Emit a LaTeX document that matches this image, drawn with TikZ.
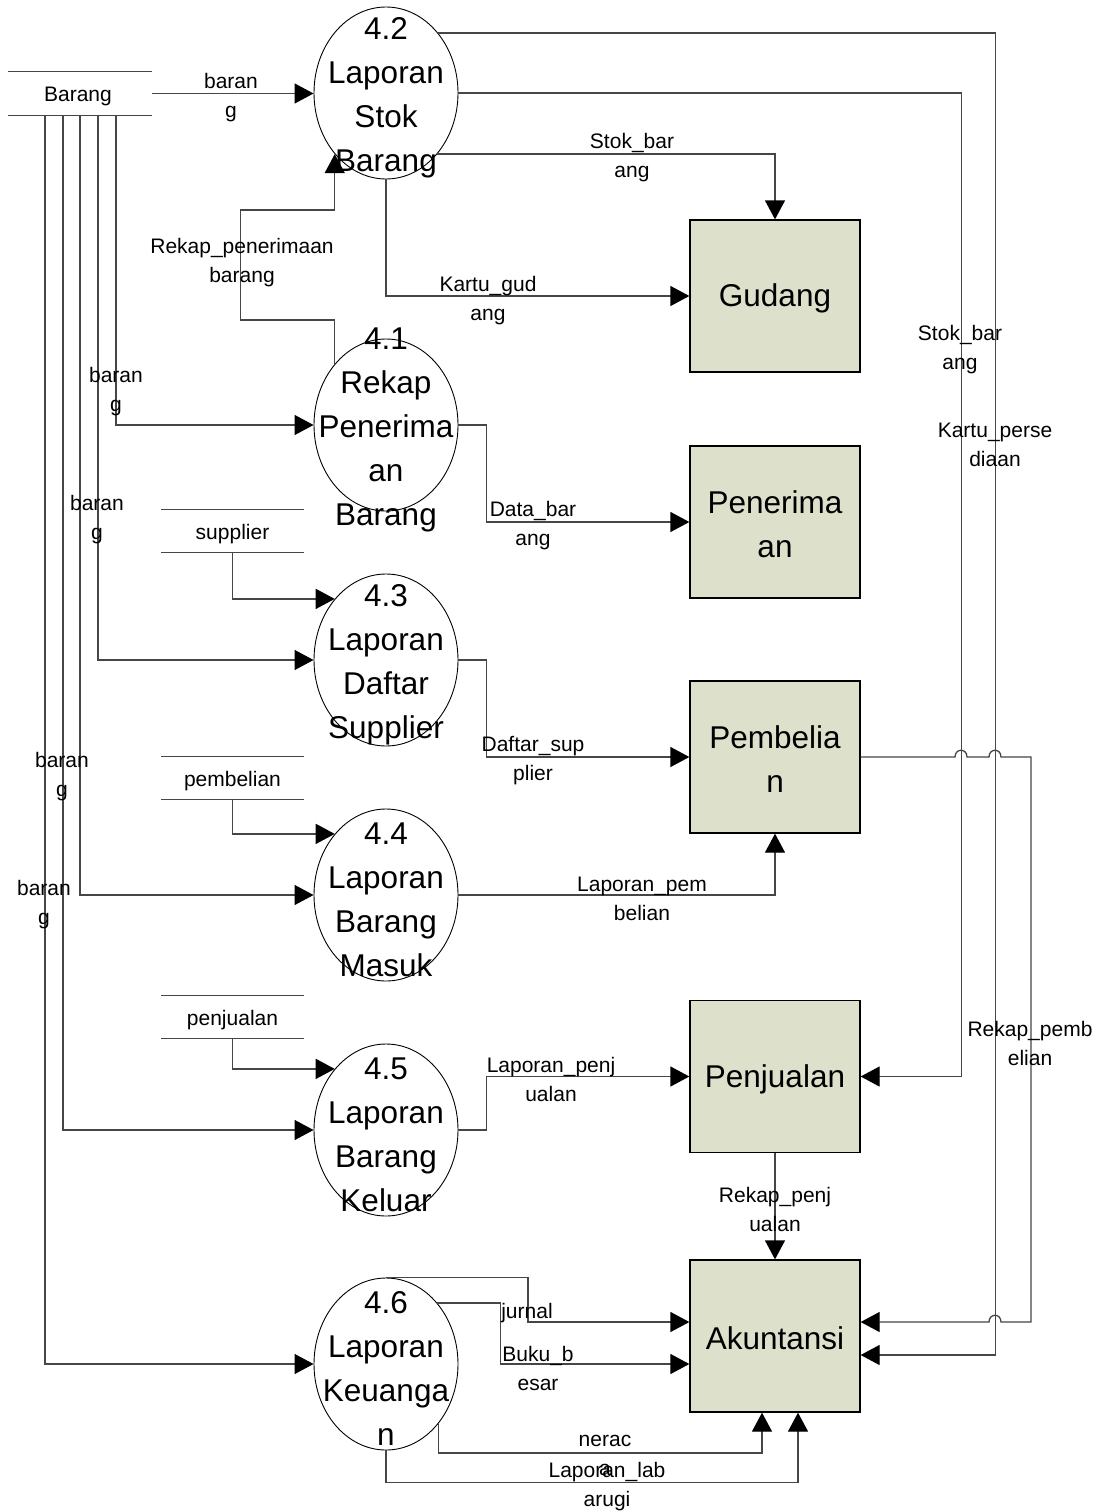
\documentclass[tikz,border=0pt]{standalone}
\usepackage{fontspec}
\setmainfont{Liberation Sans}
\usetikzlibrary{arrows.meta,shapes.geometric}
\newcommand\procfnt{\fontsize{31.5}{44}\selectfont}
\newcommand\labfnt{\fontsize{21}{29}\selectfont}
\definecolor{boxfill}{RGB}{221,225,204}
\definecolor{linegray}{RGB}{70,70,70}
\begin{document}
\begin{tikzpicture}[x=1pt,y=-1pt,
 proc/.style={ellipse,draw=black,line width=0.9pt,minimum width=144pt,minimum height=172pt,inner sep=0pt},
 ptext/.style={font=\procfnt,align=center,inner sep=0pt,yshift=-4.5pt},
 ent/.style={rectangle,draw=black,line width=1.3pt,fill=boxfill,minimum width=170pt,minimum height=152pt,inner sep=0pt},
 etext/.style={font=\procfnt,align=center,inner sep=0pt,yshift=-2.5pt},
 store/.style={minimum width=142pt,minimum height=42pt,inner sep=0pt},
 stext/.style={font=\labfnt,inner sep=0pt,yshift=-3pt},
 sline/.style={draw=linegray,line width=1.2pt},
 flow/.style={draw=linegray,line width=1.3pt,-{Triangle[length=19pt,width=20pt,color=black]}},
 lab/.style={font=\labfnt,align=center,inner sep=0pt,yshift=-2.5pt}]

\useasboundingbox (0,0) rectangle (1111,1512);
\fill[white] (0,0) rectangle (1111,1512);

% data stores
\node[store,minimum width=144pt,minimum height=43pt] (bar) at (80,93.5) {};
\node[store] (sup) at (232.5,531) {};
\node[store] (pbl) at (232.5,778) {};
\node[store] (pjl) at (232.5,1017) {};
\node[stext] (sbar) at ([xshift=-2pt]bar.center) {Barang};
\node[stext] (ssup) at (sup.center) {supplier};
\node[stext] (spbl) at (pbl.center) {pembelian};
\node[stext] (spjl) at (pjl.center) {penjualan};
\foreach \s in {bar,sup,pbl,pjl}{
  \draw[sline] (\s.north west) -- (\s.north east) (\s.south west) -- (\s.south east);
}

% processes
\node[proc] (e42) at (386,93) {};
\node[proc] (e41) at (386,425) {};
\node[proc] (e43) at (386,660) {};
\node[proc] (e44) at (386,895) {};
\node[proc] (e45) at (386,1130) {};
\node[proc] (e46) at (386,1364) {};
\node[ptext] (t42) at (e42.center) {4.2\\Laporan\\Stok\\Barang};
\node[ptext] (t41) at (e41.center) {4.1\\Rekap\\Penerima\\an\\Barang};
\node[ptext] (t43) at (e43.center) {4.3\\Laporan\\Daftar\\Supplier};
\node[ptext] (t44) at (e44.center) {4.4\\Laporan\\Barang\\Masuk};
\node[ptext] (t45) at (e45.center) {4.5\\Laporan\\Barang\\Keluar};
\node[ptext] (t46) at (e46.center) {4.6\\Laporan\\Keuanga\\n};

% external entities
\node[ent] (gud) at (775,296) {};
\node[ent] (pen) at (775,522) {};
\node[ent] (pemb) at (775,757) {};
\node[ent] (penj) at (775,1076.5) {};
\node[ent] (akun) at (775,1336) {};
\node[etext] (tgud) at (gud.center) {Gudang};
\node[etext] (tpen) at (pen.center) {Penerima\\an};
\node[etext] (tpemb) at (pemb.center) {Pembelia\\n};
\node[etext] (tpenj) at (penj.center) {Penjualan};
\node[etext] (takun) at (akun.center) {Akuntansi};

% flows from Barang
\draw[flow] (bar.east) -- (bar.east -| e42.west);
\draw[flow] ([xshift=36pt]bar.south) |- (e41.west);
\draw[flow] ([xshift=18pt]bar.south) |- (e43.west);
\draw[flow] (bar.south) |- (e44.west);
\draw[flow] ([xshift=-17pt]bar.south) |- (e45.west);
\draw[flow] ([xshift=-35pt]bar.south) |- (e46.west);

% stores to processes
\draw[flow] (sup.south) |- (e43.130);
\draw[flow] (pbl.south) |- (e44.130);
\draw[flow] (pjl.south) |- (e45.130);

% 4.1 -> 4.2
\draw[flow] (e41.130) -- ++(0,-44) -- ++(-94,0) -- ++(0,-110) -- ++(94,0) -- (e42.-130);

% 4.2 flows
\draw[flow] (e42.-50) -| (gud.north);
\draw[flow] (e42.south) |- (gud.west);
\draw[flow] (e42.49) -- ++(557,0) |- ([yshift=-19pt]akun.east);
\draw[flow] (e42.east) -- ++(503,0) |- (penj.east);

% other process flows
\draw[flow] (e41.east) -- ++(28,0) |- (pen.west);
\draw[flow] (e43.east) -- ++(28,0) |- (pemb.west);
\draw[flow] (e44.east) -| (pemb.south);
\draw[flow] (e45.east) -- ++(28,0) |- (penj.west);
\draw[flow] (penj.south) -- (akun.north);

% Pembelian -> Akuntansi with hops
\draw[flow] (pemb.east) -- (955,757) .. controls (955,748) and (967,748) .. (967,757)
  -- (989,757) .. controls (989,748) and (1001,748) .. (1001,757)
  -- (1031,757) -- (1031,1322) -- (1001,1322) .. controls (1001,1313) and (989,1313) .. (989,1322)
  -- ([yshift=14pt]akun.east);

% 4.6 flows
\draw[flow] (e46.north) -- ++(142,0) |- ([yshift=14pt]akun.west);
\draw[flow] (e46.50) -- ++(63,0) |- ([yshift=-28pt]akun.west);
\draw[flow] (e46.-49) -- ++(0,29) -| ([xshift=-13pt]akun.south);
\draw[flow] (e46.south) -- ++(0,32) -| ([xshift=23pt]akun.south);

% labels
\node[lab] (l1) at (231,95) {baran\\g};
\node[lab] (l2) at (632,155) {Stok\_bar\\ang};
\node[lab] (l3) at (242,260) {Rekap\_penerimaan\\barang};
\node[lab] (l4) at (488,298) {Kartu\_gud\\ang};
\node[lab] (l5) at (116,389) {baran\\g};
\node[lab] (l6) at (533,523) {Data\_bar\\ang};
\node[lab] (l7) at (97,517) {baran\\g};
\node[lab] (l8) at (533,758) {Daftar\_sup\\plier};
\node[lab] (l9) at (62,774) {baran\\g};
\node[lab] (l10) at (642,896) {Laporan\_pem\\belian};
\node[lab] (l11) at (44,902) {baran\\g};
\node[lab] (l12) at (551,1077) {Laporan\_penj\\ualan};
\node[lab] (l13) at (775,1207) {Rekap\_penj\\ualan};
\node[lab] (l14) at (527,1311) {jurnal};
\node[lab] (l15) at (538,1366) {Buku\_b\\esar};
\node[lab] (l16) at (605,1453) {nerac\\a};
\node[lab] (l17) at (607,1484) {Laporan\_lab\\arugi};
\node[lab] (l18) at (960,347) {Stok\_bar\\ang};
\node[lab] (l19) at (995,442) {Kartu\_perse\\diaan};
\node[lab] (l20) at (1030,1041) {Rekap\_pemb\\elian};
\end{tikzpicture}
\end{document}
